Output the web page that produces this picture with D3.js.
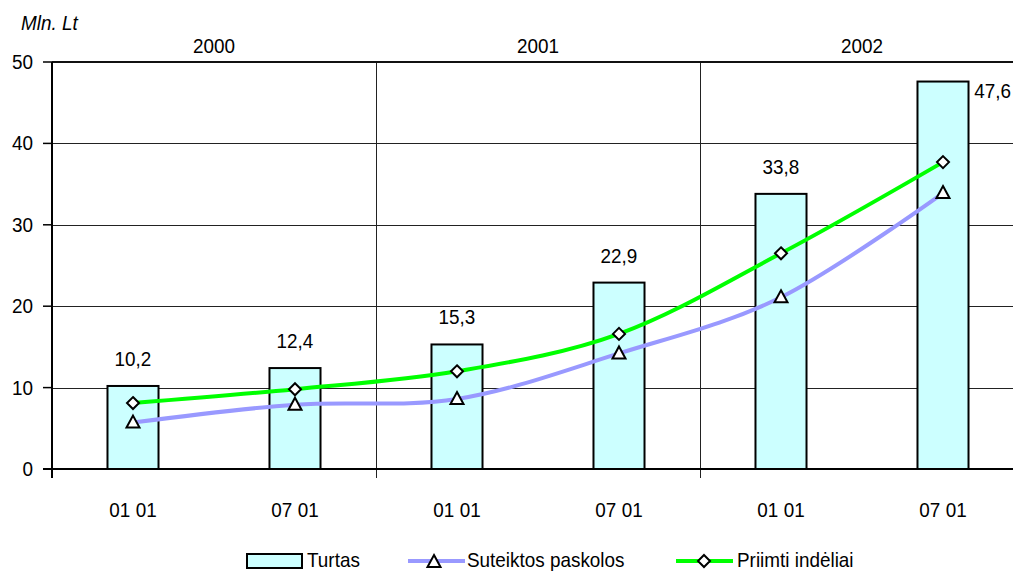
<!DOCTYPE html>
<html>
<head>
<meta charset="utf-8">
<script src="https://cdn.jsdelivr.net/npm/d3@7"></script>
<style>
  html, body { margin: 0; padding: 0; background: #fff; }
  svg { display: block; font-family: "Liberation Sans", Arial, sans-serif; }
  text { fill: #000; }
</style>
</head>
<body>
<svg id="chart" width="1013" height="572"></svg>
<script>
// Bank balance-sheet figures, million litas
const categories = ["01 01", "07 01", "01 01", "07 01", "01 01", "07 01"];
const years = ["2000", "2001", "2002"];
const turtas = [10.2, 12.4, 15.3, 22.9, 33.8, 47.6];
const paskolos = [5.7, 7.9, 8.6, 14.2, 21.1, 33.9];
const indeliai = [8.1, 9.8, 12.0, 16.6, 26.5, 37.7];
const yTicks = [0, 10, 20, 30, 40, 50];
const seriesNames = ["Turtas", "Suteiktos paskolos", "Priimti indėliai"];
const unitLabel = "Mln. Lt";

(function draw() {
  const svg = d3.select("#chart");
  const W = 1013;
  const plotL = 52, plotR = 1024, plotT = 62, plotB = 469;
  const fontSize = 21, squeeze = 0.9;

  const x = d3.scaleBand().domain(d3.range(categories.length)).range([plotL, plotR]).padding(0);
  const cx = i => x(i) + x.bandwidth() / 2;
  const y = d3.scaleLinear().domain([0, 50]).range([plotB, plotT]);
  const barW = x.bandwidth() * 0.315;
  const fmt = v => d3.format(".1f")(v).replace(".", ",");

  // slightly narrowed text, placed at (tx, ty)
  function label(parent, str, tx, ty, anchor, italic) {
    const t = parent.append("text")
      .attr("transform", `translate(${tx},${ty}) scale(${squeeze},1)`)
      .attr("text-anchor", anchor || "start")
      .attr("font-size", fontSize)
      .text(str);
    if (italic) t.attr("font-style", "italic");
    return t;
  }

  // horizontal gridlines
  svg.append("g").selectAll("line")
    .data(yTicks.filter(t => t > 0 && t < 50))
    .join("line")
    .attr("x1", plotL).attr("x2", W)
    .attr("y1", d => Math.round(y(d)) + 0.5).attr("y2", d => Math.round(y(d)) + 0.5)
    .attr("stroke", "#222").attr("stroke-width", 1);

  // year separators (extend below the axis as ticks)
  const sepIdx = d3.range(1, years.length);
  svg.append("g").selectAll("line")
    .data(sepIdx)
    .join("line")
    .attr("x1", d => Math.round(x(d * 2)) + 0.5).attr("x2", d => Math.round(x(d * 2)) + 0.5)
    .attr("y1", plotT).attr("y2", plotB + 9)
    .attr("stroke", "#222").attr("stroke-width", 1);

  // bars
  svg.append("g").selectAll("rect")
    .data(turtas)
    .join("rect")
    .attr("x", (d, i) => cx(i) - barW / 2)
    .attr("width", barW)
    .attr("y", d => y(d))
    .attr("height", d => y(0) - y(d))
    .attr("fill", "#CCFFFF")
    .attr("stroke", "#000").attr("stroke-width", 2);

  // smoothed series lines
  const line = d3.line().x((d, i) => cx(i)).y(d => y(d)).curve(d3.curveCardinal.tension(0));
  svg.append("path").datum(paskolos).attr("d", line)
    .attr("fill", "none").attr("stroke", "#9999FF").attr("stroke-width", 4);
  svg.append("path").datum(indeliai).attr("d", line)
    .attr("fill", "none").attr("stroke", "#00FF00").attr("stroke-width", 4);

  const triPath = (px, py) => `M${px},${py - 7}L${px + 6.5},${py + 5}L${px - 6.5},${py + 5}Z`;
  const diaPath = (px, py) => `M${px},${py - 6}L${px + 6},${py}L${px},${py + 6}L${px - 6},${py}Z`;

  svg.append("g").selectAll("path")
    .data(paskolos).join("path")
    .attr("d", (d, i) => triPath(cx(i), y(d)))
    .attr("fill", "#fff").attr("stroke", "#000").attr("stroke-width", 2);
  svg.append("g").selectAll("path")
    .data(indeliai).join("path")
    .attr("d", (d, i) => diaPath(cx(i), y(d)))
    .attr("fill", "#fff").attr("stroke", "#000").attr("stroke-width", 2);

  // axes frame
  svg.append("line").attr("x1", plotL).attr("x2", W).attr("y1", plotT).attr("y2", plotT)
    .attr("stroke", "#111").attr("stroke-width", 2);
  svg.append("line").attr("x1", plotL - 9).attr("x2", W).attr("y1", plotB).attr("y2", plotB)
    .attr("stroke", "#000").attr("stroke-width", 2);
  svg.append("line").attr("x1", plotL).attr("x2", plotL).attr("y1", plotT).attr("y2", plotB + 9)
    .attr("stroke", "#000").attr("stroke-width", 2);

  // y ticks and labels
  svg.append("g").selectAll("line")
    .data(yTicks).join("line")
    .attr("x1", plotL - 9).attr("x2", plotL)
    .attr("y1", d => y(d)).attr("y2", d => y(d))
    .attr("stroke", "#000").attr("stroke-width", 1.5);
  const gy = svg.append("g");
  yTicks.forEach(t => label(gy, t, 33, y(t) + 7, "end"));

  // category labels
  const gx = svg.append("g");
  categories.forEach((c, i) => label(gx, c, cx(i), 517, "middle"));

  // year labels across the top
  const gyr = svg.append("g");
  years.forEach((yr, i) => label(gyr, yr, (x(i * 2) + x(i * 2 + 1) + x.bandwidth()) / 2, 53, "middle"));

  // unit label
  label(svg, unitLabel, 21, 30, "start", true);

  // bar value labels (moved beside the bar when no room above)
  const gv = svg.append("g");
  turtas.forEach((d, i) => {
    if (y(d) - 20 < plotT + 22) {
      const t = label(gv, fmt(d), 0, 0, "start");
      const w = t.node().getComputedTextLength() * squeeze;
      const tx = Math.min(cx(i) + barW / 2 + 13, W - 2 - w);
      t.attr("transform", `translate(${tx},${y(d) + 16}) scale(${squeeze},1)`);
    } else {
      label(gv, fmt(d), cx(i), y(d) - 20, "middle");
    }
  });

  // legend
  const lg = svg.append("g");
  const ly = 560;
  lg.append("rect").attr("x", 247).attr("y", ly - 6).attr("width", 55).attr("height", 14)
    .attr("fill", "#CCFFFF").attr("stroke", "#000").attr("stroke-width", 2);
  label(lg, seriesNames[0], 307, ly + 7);

  lg.append("line").attr("x1", 408).attr("x2", 465).attr("y1", ly + 1).attr("y2", ly + 1)
    .attr("stroke", "#9999FF").attr("stroke-width", 4);
  lg.append("path").attr("d", triPath(434, ly + 2))
    .attr("fill", "#fff").attr("stroke", "#000").attr("stroke-width", 2);
  label(lg, seriesNames[1], 467, ly + 7);

  lg.append("line").attr("x1", 676).attr("x2", 733).attr("y1", ly + 1).attr("y2", ly + 1)
    .attr("stroke", "#00FF00").attr("stroke-width", 4);
  lg.append("path").attr("d", diaPath(704, ly + 1))
    .attr("fill", "#fff").attr("stroke", "#000").attr("stroke-width", 2);
  label(lg, seriesNames[2], 737, ly + 7);
})();
</script>
</body>
</html>
